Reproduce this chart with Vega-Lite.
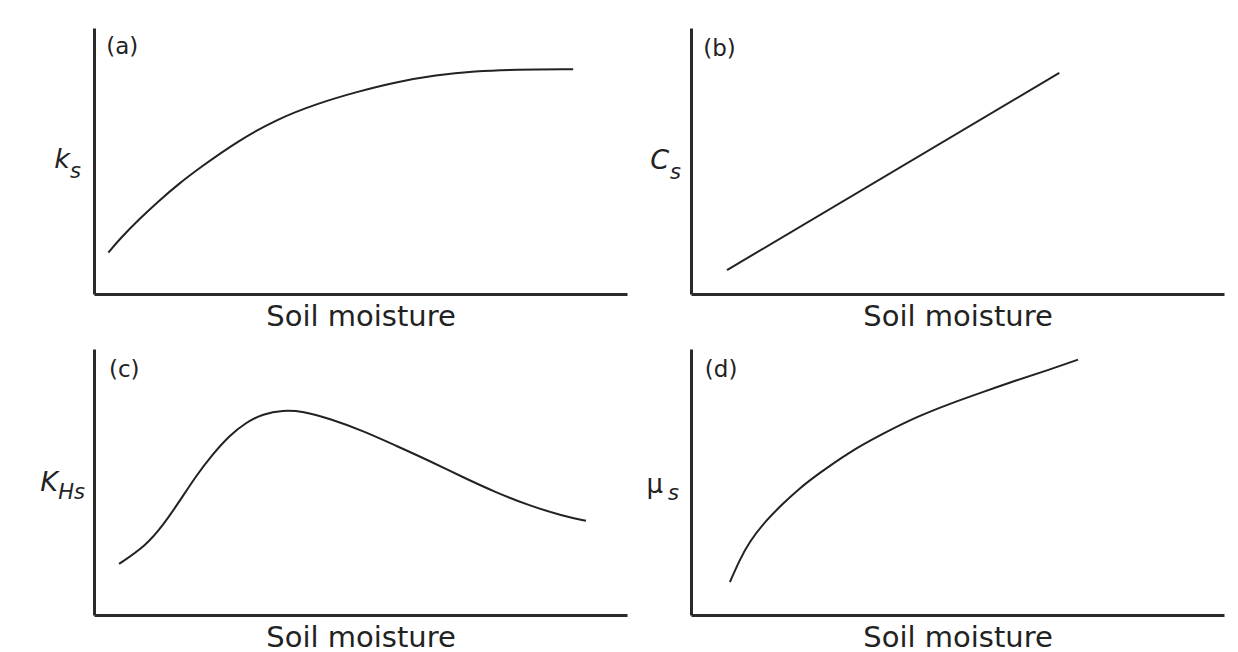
{
  "$schema": "https://vega.github.io/schema/vega-lite/v6.json",
  "background": "white",
  "padding": {"left": 40, "top": 28, "right": 5, "bottom": 5},
  "config": {
    "view": {"stroke": null},
    "font": "DejaVu Sans",
    "axis": {
      "grid": false, "ticks": false, "labels": false,
      "domainColor": "#2a2a2a", "domainWidth": 3,
      "titleFont": "DejaVu Sans", "titleColor": "#222", "titleFontWeight": "normal"
    },
    "axisX": {"titleFontSize": 29, "titlePadding": 8},
    "line": {"color": "#222", "strokeWidth": 2, "interpolate": "basis"},
    "text": {"color": "#222", "font": "DejaVu Sans"}
  },
  "datasets": {
    "a": [
      {"m": 2.7, "v": 15.6}, {"m": 4.8, "v": 20.6}, {"m": 8.5, "v": 28.2}, {"m": 12.2, "v": 35.1},
      {"m": 15.9, "v": 41.4}, {"m": 19.6, "v": 47.1}, {"m": 27.1, "v": 57.7}, {"m": 34.5, "v": 65.9},
      {"m": 41.9, "v": 71.6}, {"m": 49.3, "v": 76.0}, {"m": 56.7, "v": 79.7}, {"m": 64.1, "v": 82.3},
      {"m": 71.5, "v": 83.8}, {"m": 79.0, "v": 84.4}, {"m": 89.9, "v": 84.5}
    ],
    "b": [
      {"m": 6.75, "v": 9.0}, {"m": 69.1, "v": 83.1}
    ],
    "c": [
      {"m": 4.7, "v": 19.2}, {"m": 9.8, "v": 26.2}, {"m": 12.9, "v": 33.6}, {"m": 16.0, "v": 42.6},
      {"m": 19.1, "v": 52.2}, {"m": 22.3, "v": 60.5}, {"m": 25.4, "v": 67.4}, {"m": 28.5, "v": 72.4},
      {"m": 31.7, "v": 75.6}, {"m": 35.4, "v": 77.0}, {"m": 39.2, "v": 76.6}, {"m": 44.1, "v": 73.9},
      {"m": 50.4, "v": 69.3}, {"m": 56.7, "v": 63.6}, {"m": 62.9, "v": 58.0}, {"m": 69.2, "v": 51.8},
      {"m": 75.4, "v": 46.1}, {"m": 81.7, "v": 41.1}, {"m": 87.9, "v": 37.3}, {"m": 92.3, "v": 35.4}
    ],
    "d": [
      {"m": 7.3, "v": 12.4}, {"m": 9.1, "v": 20.6}, {"m": 10.9, "v": 27.4}, {"m": 14.1, "v": 35.6},
      {"m": 17.2, "v": 41.8}, {"m": 20.3, "v": 47.5}, {"m": 23.5, "v": 52.5}, {"m": 29.7, "v": 61.3},
      {"m": 36.0, "v": 68.2}, {"m": 42.2, "v": 74.4}, {"m": 48.5, "v": 79.4}, {"m": 54.7, "v": 83.8},
      {"m": 61.0, "v": 88.2}, {"m": 67.2, "v": 92.2}, {"m": 72.6, "v": 96.0}
    ]
  },
  "columns": 2,
  "spacing": {"row": 18, "column": 19},
  "concat": [
    {
      "width": 533, "height": 266,
      "layer": [
        {
          "data": {"name": "a"},
          "mark": {"type": "line"},
          "encoding": {
            "x": {"field": "m", "type": "quantitative", "scale": {"domain": [0, 100], "nice": false}, "title": "Soil moisture"},
            "y": {"field": "v", "type": "quantitative", "scale": {"domain": [0, 100], "nice": false}, "title": null}
          }
        },
        {
          "data": {"values": [{"label": "(a)", "m": 2.3, "v": 93}]},
          "mark": {"type": "text", "fontSize": 23, "align": "left", "baseline": "middle"},
          "encoding": {"x": {"field": "m", "type": "quantitative"}, "y": {"field": "v", "type": "quantitative"}, "text": {"field": "label"}}
        },
        {
          "data": {"values": [{"main": "k", "sub": "s", "m": 0, "v": 50}]},
          "mark": {"type": "text", "fontSize": 27, "fontStyle": "italic", "align": "right", "baseline": "alphabetic", "dx": -24, "dy": 7},
          "encoding": {"x": {"field": "m", "type": "quantitative"}, "y": {"field": "v", "type": "quantitative"}, "text": {"field": "main"}}
        },
        {
          "data": {"values": [{"main": "k", "sub": "s", "m": 0, "v": 50}]},
          "mark": {"type": "text", "fontSize": 21, "fontStyle": "italic", "align": "right", "baseline": "alphabetic", "dx": -13, "dy": 17},
          "encoding": {"x": {"field": "m", "type": "quantitative"}, "y": {"field": "v", "type": "quantitative"}, "text": {"field": "sub"}}
        }
      ]
    },
    {
      "width": 533, "height": 266,
      "layer": [
        {
          "data": {"name": "b"},
          "mark": {"type": "line", "interpolate": "linear"},
          "encoding": {
            "x": {"field": "m", "type": "quantitative", "scale": {"domain": [0, 100], "nice": false}, "title": "Soil moisture"},
            "y": {"field": "v", "type": "quantitative", "scale": {"domain": [0, 100], "nice": false}, "title": null}
          }
        },
        {
          "data": {"values": [{"label": "(b)", "m": 2.3, "v": 92}]},
          "mark": {"type": "text", "fontSize": 23, "align": "left", "baseline": "middle"},
          "encoding": {"x": {"field": "m", "type": "quantitative"}, "y": {"field": "v", "type": "quantitative"}, "text": {"field": "label"}}
        },
        {
          "data": {"values": [{"main": "C", "sub": "s", "m": 0, "v": 50}]},
          "mark": {"type": "text", "fontSize": 27, "fontStyle": "italic", "align": "right", "baseline": "alphabetic", "dx": -22, "dy": 8},
          "encoding": {"x": {"field": "m", "type": "quantitative"}, "y": {"field": "v", "type": "quantitative"}, "text": {"field": "main"}}
        },
        {
          "data": {"values": [{"main": "C", "sub": "s", "m": 0, "v": 50}]},
          "mark": {"type": "text", "fontSize": 21, "fontStyle": "italic", "align": "right", "baseline": "alphabetic", "dx": -10, "dy": 18},
          "encoding": {"x": {"field": "m", "type": "quantitative"}, "y": {"field": "v", "type": "quantitative"}, "text": {"field": "sub"}}
        }
      ]
    },
    {
      "width": 533, "height": 266,
      "layer": [
        {
          "data": {"name": "c"},
          "mark": {"type": "line"},
          "encoding": {
            "x": {"field": "m", "type": "quantitative", "scale": {"domain": [0, 100], "nice": false}, "title": "Soil moisture"},
            "y": {"field": "v", "type": "quantitative", "scale": {"domain": [0, 100], "nice": false}, "title": null}
          }
        },
        {
          "data": {"values": [{"label": "(c)", "m": 2.8, "v": 92}]},
          "mark": {"type": "text", "fontSize": 23, "align": "left", "baseline": "middle"},
          "encoding": {"x": {"field": "m", "type": "quantitative"}, "y": {"field": "v", "type": "quantitative"}, "text": {"field": "label"}}
        },
        {
          "data": {"values": [{"main": "K", "sub": "Hs", "m": 0, "v": 50}]},
          "mark": {"type": "text", "fontSize": 27, "fontStyle": "italic", "align": "right", "baseline": "alphabetic", "dx": -36, "dy": 9},
          "encoding": {"x": {"field": "m", "type": "quantitative"}, "y": {"field": "v", "type": "quantitative"}, "text": {"field": "main"}}
        },
        {
          "data": {"values": [{"main": "K", "sub": "Hs", "m": 0, "v": 50}]},
          "mark": {"type": "text", "fontSize": 21, "fontStyle": "italic", "align": "right", "baseline": "alphabetic", "dx": -9, "dy": 17},
          "encoding": {"x": {"field": "m", "type": "quantitative"}, "y": {"field": "v", "type": "quantitative"}, "text": {"field": "sub"}}
        }
      ]
    },
    {
      "width": 533, "height": 266,
      "layer": [
        {
          "data": {"name": "d"},
          "mark": {"type": "line"},
          "encoding": {
            "x": {"field": "m", "type": "quantitative", "scale": {"domain": [0, 100], "nice": false}, "title": "Soil moisture"},
            "y": {"field": "v", "type": "quantitative", "scale": {"domain": [0, 100], "nice": false}, "title": null}
          }
        },
        {
          "data": {"values": [{"label": "(d)", "m": 2.6, "v": 92}]},
          "mark": {"type": "text", "fontSize": 23, "align": "left", "baseline": "middle"},
          "encoding": {"x": {"field": "m", "type": "quantitative"}, "y": {"field": "v", "type": "quantitative"}, "text": {"field": "label"}}
        },
        {
          "data": {"values": [{"main": "μ", "sub": "s", "m": 0, "v": 50}]},
          "mark": {"type": "text", "fontSize": 26, "align": "right", "baseline": "alphabetic", "dx": -28, "dy": 11},
          "encoding": {"x": {"field": "m", "type": "quantitative"}, "y": {"field": "v", "type": "quantitative"}, "text": {"field": "main"}}
        },
        {
          "data": {"values": [{"main": "μ", "sub": "s", "m": 0, "v": 50}]},
          "mark": {"type": "text", "fontSize": 21, "fontStyle": "italic", "align": "right", "baseline": "alphabetic", "dx": -12, "dy": 18},
          "encoding": {"x": {"field": "m", "type": "quantitative"}, "y": {"field": "v", "type": "quantitative"}, "text": {"field": "sub"}}
        }
      ]
    }
  ]
}
